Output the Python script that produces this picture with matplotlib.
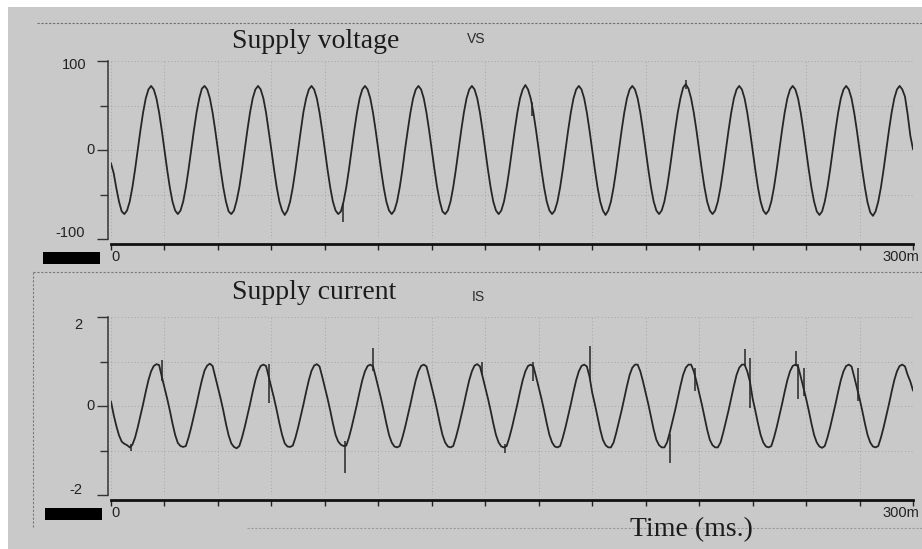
import matplotlib
matplotlib.use("Agg")
import matplotlib.pyplot as plt
from matplotlib.patches import Rectangle
from matplotlib.lines import Line2D
from matplotlib.ticker import FixedLocator

W, H = 922, 549

# sample clock: one reading per ms over the 300 ms record
time_ms = list(range(0, 301))

# supply voltage vs (one row = one 20 ms cycle)
vs = [
    -15, -26, -43, -58, -69, -72, -68, -58, -42, -22, 0, 22, 42, 58, 68, 72, 68, 58, 42, 22,
    0, -22, -42, -58, -68, -72, -68, -58, -42, -22, 0, 22, 42, 58, 69, 72, 68, 58, 42, 22,
    0, -22, -42, -58, -69, -72, -68, -57, -42, -22, 0, 22, 42, 58, 68, 72, 68, 58, 42, 21,
    0, -22, -42, -58, -68, -73, -68, -58, -42, -22, 0, 22, 43, 58, 68, 72, 68, 58, 42, 22,
    0, -22, -42, -58, -68, -72, -69, -58, -42, -22, 0, 22, 42, 58, 68, 72, 68, 58, 42, 22,
    0, -22, -42, -58, -68, -72, -68, -58, -42, -22, 1, 22, 42, 58, 68, 72, 68, 58, 42, 22,
    0, -22, -42, -58, -69, -72, -68, -58, -42, -22, 0, 22, 42, 58, 68, 72, 68, 58, 42, 22,
    0, -22, -42, -58, -68, -72, -68, -58, -42, -22, 0, 22, 42, 58, 68, 73, 68, 58, 42, 22,
    0, -22, -42, -58, -68, -72, -68, -58, -42, -22, 0, 22, 42, 58, 68, 72, 68, 58, 42, 22,
    0, -22, -42, -58, -68, -73, -68, -58, -42, -22, 0, 22, 42, 58, 68, 72, 68, 58, 42, 22,
    0, -22, -42, -58, -68, -72, -68, -58, -42, -22, 0, 22, 42, 58, 70, 74, 69, 58, 42, 22,
    0, -22, -42, -58, -68, -72, -68, -58, -42, -22, 0, 22, 42, 58, 68, 72, 68, 58, 42, 22,
    0, -22, -42, -58, -68, -72, -68, -58, -42, -22, 0, 22, 42, 58, 68, 72, 68, 58, 42, 22,
    0, -22, -42, -58, -69, -73, -69, -58, -42, -22, 0, 22, 42, 58, 68, 72, 68, 58, 42, 22,
    0, -22, -42, -59, -70, -74, -69, -58, -42, -22, 0, 22, 42, 58, 68, 72, 68, 60, 40, 16,
    1,
]
# short vertical glitches on the voltage trace (time, low, high)
vs_glitch_t = [86.9, 157.6, 215.0]
vs_glitch_lo = [-81, 38, 68]
vs_glitch_hi = [-60, 54, 79]

# supply current is
is_ = [
    0.10, -0.20, -0.45, -0.66, -0.80, -0.85, -0.88, -0.93, -0.87, -0.71, -0.48, -0.22, 0.04, 0.32, 0.58, 0.78, 0.90, 0.94, 0.92, 0.66,
    0.42, 0.17, -0.10, -0.39, -0.65, -0.83, -0.90, -0.92, -0.90, -0.71, -0.48, -0.22, 0.04, 0.32, 0.58, 0.80, 0.91, 0.95, 0.90, 0.66,
    0.42, 0.17, -0.10, -0.40, -0.66, -0.84, -0.92, -0.95, -0.90, -0.71, -0.48, -0.22, 0.04, 0.32, 0.58, 0.78, 0.90, 0.93, 0.90, 0.66,
    0.42, 0.17, -0.10, -0.39, -0.65, -0.84, -0.91, -0.92, -0.89, -0.71, -0.48, -0.22, 0.04, 0.32, 0.58, 0.79, 0.91, 0.94, 0.89, 0.66,
    0.42, 0.17, -0.10, -0.39, -0.65, -0.80, -0.87, -0.90, -0.89, -0.71, -0.48, -0.22, 0.04, 0.32, 0.58, 0.78, 0.90, 0.93, 0.89, 0.66,
    0.42, 0.17, -0.10, -0.39, -0.65, -0.82, -0.91, -0.93, -0.90, -0.71, -0.48, -0.22, 0.04, 0.32, 0.58, 0.78, 0.90, 0.93, 0.89, 0.66,
    0.42, 0.17, -0.10, -0.39, -0.65, -0.82, -0.91, -0.93, -0.90, -0.71, -0.48, -0.22, 0.04, 0.32, 0.58, 0.78, 0.91, 0.94, 0.89, 0.66,
    0.42, 0.17, -0.10, -0.39, -0.65, -0.82, -0.91, -0.93, -0.90, -0.71, -0.48, -0.22, 0.04, 0.32, 0.58, 0.78, 0.90, 0.93, 0.89, 0.66,
    0.42, 0.17, -0.10, -0.39, -0.65, -0.82, -0.91, -0.93, -0.90, -0.71, -0.48, -0.22, 0.04, 0.32, 0.58, 0.78, 0.90, 0.93, 0.89, 0.66,
    0.30, 0.04, -0.24, -0.53, -0.76, -0.88, -0.93, -0.93, -0.82, -0.60, -0.35, -0.10, 0.18, 0.45, 0.70, 0.86, 0.93, 0.93, 0.78, 0.55,
    0.30, 0.04, -0.24, -0.53, -0.76, -0.88, -0.93, -0.93, -0.82, -0.60, -0.35, -0.10, 0.18, 0.45, 0.70, 0.86, 0.93, 0.93, 0.78, 0.55,
    0.30, 0.04, -0.24, -0.53, -0.76, -0.88, -0.93, -0.93, -0.82, -0.60, -0.35, -0.10, 0.18, 0.45, 0.70, 0.86, 0.93, 0.93, 0.78, 0.55,
    0.17, -0.10, -0.39, -0.65, -0.82, -0.91, -0.93, -0.90, -0.71, -0.48, -0.22, 0.04, 0.32, 0.58, 0.78, 0.90, 0.93, 0.89, 0.66, 0.42,
    0.17, -0.10, -0.39, -0.65, -0.82, -0.91, -0.94, -0.90, -0.71, -0.48, -0.22, 0.04, 0.32, 0.58, 0.78, 0.90, 0.93, 0.89, 0.66, 0.42,
    0.17, -0.10, -0.39, -0.65, -0.82, -0.91, -0.93, -0.90, -0.71, -0.48, -0.22, 0.04, 0.32, 0.58, 0.78, 0.90, 0.93, 0.89, 0.70, 0.55,
    0.35,
]
is_glitch_t = [7.5, 19.1, 59.1, 87.5, 98.0, 138.8, 147.4, 157.9, 179.2, 209.1,
               218.5, 237.2, 239.0, 256.3, 257.0, 259.3, 279.5]
is_glitch_lo = [-1.01, 0.56, 0.07, -1.50, 0.79, 0.70, -1.05, 0.56, 0.60, -1.28,
                0.34, 0.90, -0.04, 0.90, 0.16, 0.22, 0.11]
is_glitch_hi = [-0.85, 1.03, 0.94, -0.79, 1.30, 1.00, -0.85, 1.00, 1.35, -0.63,
                0.85, 1.28, 1.08, 1.24, 0.94, 0.85, 0.85]

x_ticks = list(range(0, 301, 20))
vs_ticks = [-100, 0, 100]
vs_minor = [-50, 50]
is_ticks = [-2, 0, 2]
is_minor = [-1, 1]

BG = "#c9c9c9"
INK = "#262626"
GRID = "#9a9a9a"


def fx(px):
    return px / W


def fy(py):
    return 1 - py / H


fig = plt.figure(figsize=(W / 100, H / 100), dpi=100)
fig.patch.set_facecolor("white")
fig.patches.append(Rectangle((fx(8), 0), 1 - fx(8), fy(7), transform=fig.transFigure,
                             facecolor=BG, edgecolor="none", zorder=-10))

# scanned page artefacts: dotted frame lines and black markers
for xs, ys, col in [((37, 922), (23, 23), "#6f6f6f"),
                    ((33, 922), (272, 272), "#7a7a7a"),
                    ((33, 33), (272, 527), "#7a7a7a"),
                    ((247, 922), (528, 528), "#9a9a9a")]:
    fig.add_artist(Line2D([fx(xs[0]), fx(xs[1])], [fy(ys[0]), fy(ys[1])], transform=fig.transFigure,
                          color=col, lw=0.8, linestyle=(0, (2, 1.5))))
for x0, y0, x1, y1 in [(43, 252, 100, 264), (45, 508, 102, 520)]:
    fig.patches.append(Rectangle((fx(x0), fy(y1)), fx(x1) - fx(x0), fy(y0) - fy(y1),
                                 transform=fig.transFigure, facecolor="black", edgecolor="none"))


def panel(top_px, y, ylim, yticks, yminor, glitch, ylabels, title, title_y, tag, tag_pos):
    ax = fig.add_axes([fx(111), fy(top_px + 178), fx(913) - fx(111), 178 / H])
    ax.set_facecolor("none")
    ax.plot(time_ms, y, color=INK, lw=1.3, solid_joinstyle="round")
    ax.vlines(glitch[0], glitch[1], glitch[2], color=INK, lw=1.1)
    ax.set_xlim(0, 300)
    ax.set_ylim(*ylim)
    ax.xaxis.set_major_locator(FixedLocator(x_ticks))
    ax.yaxis.set_major_locator(FixedLocator(yticks))
    ax.yaxis.set_minor_locator(FixedLocator(yminor))
    ax.grid(True, which="both", color=GRID, lw=0.6, linestyle=(0, (1, 3)))
    for s in ["top", "right"]:
        ax.spines[s].set_visible(False)
    ax.spines["left"].set_position(("outward", 2.2))
    ax.spines["left"].set_color("#333333")
    ax.spines["left"].set_linewidth(1.1)
    ax.spines["bottom"].set_position(("outward", 3.6))
    ax.spines["bottom"].set_color("#111111")
    ax.spines["bottom"].set_linewidth(2.0)
    ax.tick_params(axis="x", direction="out", length=4.5, width=1.0, color="#222222",
                   labelbottom=False)
    ax.tick_params(axis="y", which="major", direction="out", length=8, width=1.0,
                   color="#333333", labelleft=False)
    ax.tick_params(axis="y", which="minor", direction="out", length=5.5, width=1.0,
                   color="#333333")
    for val, txt, dx, dy in ylabels:
        ax.annotate(txt, xy=(0, val), xycoords=("axes fraction", "data"), xytext=(-dx, dy),
                    textcoords="offset pixels", ha="right", va="center",
                    fontsize=10.5, family="Liberation Sans", color="#222222")
    ax.annotate("0", xy=(0, 0), xycoords="axes fraction", xytext=(0, -18),
                textcoords="offset pixels", ha="left", va="center",
                fontsize=10.5, family="Liberation Sans", color="#222222")
    ax.annotate("300m", xy=(1, 0), xycoords="axes fraction", xytext=(6, -18),
                textcoords="offset pixels", ha="right", va="center",
                fontsize=10.5, family="Liberation Sans", color="#222222")
    fig.text(fx(232), fy(title_y), title, ha="left", va="baseline", fontsize=20,
             family="Liberation Serif", color="#1c1c1c")
    fig.text(fx(tag_pos[0]), fy(tag_pos[1]), tag, ha="left", va="baseline", fontsize=10,
             family="Liberation Sans", color="#2a2a2a")
    return ax


panel(61, vs, (-100, 100), vs_ticks, vs_minor,
      (vs_glitch_t, vs_glitch_lo, vs_glitch_hi),
      [(100, "100", 25, -4), (0, "0", 16, 0), (-100, "-100", 26, 6)],
      "Supply voltage", 48, "VS", (467, 43))

panel(317, is_, (-2, 2), is_ticks, is_minor,
      (is_glitch_t, is_glitch_lo, is_glitch_hi),
      [(2, "2", 29, -8), (0, "0", 16, 0), (-2, "-2", 29, 5)],
      "Supply current", 299, "IS", (472, 301))

fig.text(fx(630), fy(536), "Time (ms.)", ha="left", va="baseline", fontsize=20,
         family="Liberation Serif", color="#1c1c1c")

fig.savefig("out.png", dpi=100, facecolor=fig.get_facecolor())
